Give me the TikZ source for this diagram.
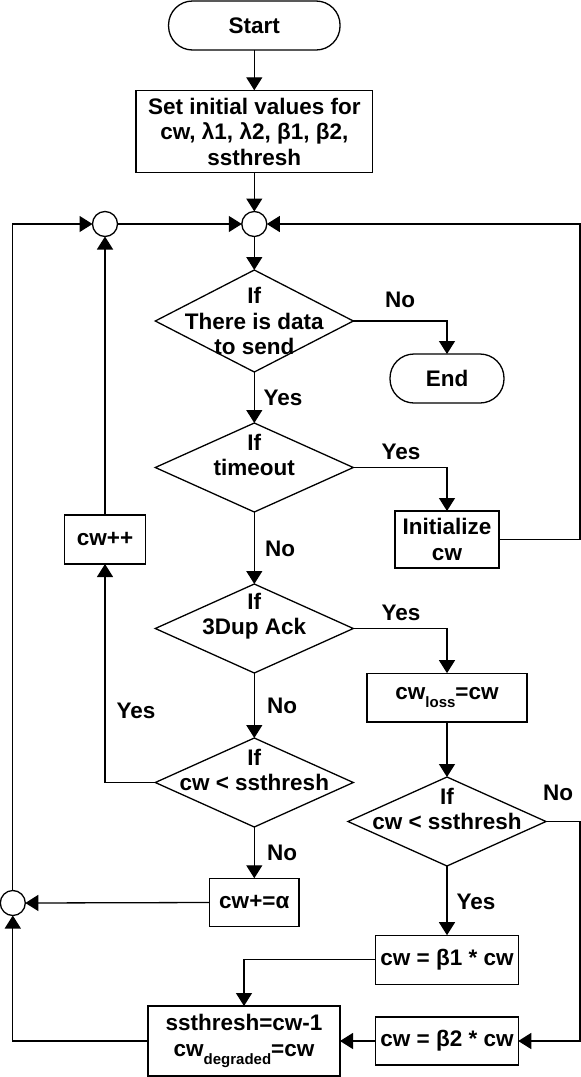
\documentclass[tikz,border=0pt]{standalone}
\usepackage{fontspec}
\setmainfont{Liberation Sans}
\usetikzlibrary{shapes.geometric,arrows.meta}
\newcommand{\mysub}[1]{\raisebox{-8.5pt}{\fontsize{15}{15}\selectfont #1}}
\begin{document}
\begin{tikzpicture}[x=1pt,y=-1pt,line width=1.3pt,
  every node/.style={font=\fontsize{22.5}{25.5}\selectfont\bfseries,align=center},
  box/.style={draw,rectangle,inner sep=0pt,outer sep=0pt},
  term/.style={draw,rectangle,rounded corners=24pt,inner sep=0pt,outer sep=0pt,minimum width=#1,minimum height=49pt},
  dia/.style={draw,diamond,inner sep=0pt,outer sep=0pt,minimum width=198pt,minimum height=#1},
  junc/.style={draw,circle,fill=white,inner sep=0pt,outer sep=0pt,minimum size=25pt},
  lbl/.style={inner sep=0pt},
  arr/.style={-{Triangle[length=13pt,width=16pt]}}]
\useasboundingbox (0,0) rectangle (581,1077);
% nodes
\node[term=171.5pt] (start) at (254.3,25.5) {Start};
\node[box,minimum width=236.6pt,minimum height=82.4pt] (init) at (254.3,131.5) {Set initial values for\\cw, λ1, λ2, β1, β2,\\ssthresh};
\node[junc] (cmain) at (254.3,224) {};
\node[junc] (cleft) at (105,224) {};
\node[junc] (cbot) at (12.8,903) {};
\node[dia=102pt] (d1) at (254.3,321) {};
\node[lbl] at (254.3,321) {If\\There is data\\to send};
\node[term=114pt] (endn) at (447,378.5) {End};
\node[dia=89pt] (d2) at (254.3,467.5) {};
\node[lbl] at (254.3,455) {If\\timeout};
\node[box,minimum width=104pt,minimum height=57pt] (icw) at (447,539.5) {Initialize\\cw};
\node[box,minimum width=81.5pt,minimum height=49pt] (cwpp) at (105,539.5) {cw++};
\node[dia=89pt] (d3) at (254.3,628.5) {};
\node[lbl] at (254.3,616) {If\\3Dup Ack};
\node[box,minimum width=160pt,minimum height=48.7pt] (loss) at (447,697.5) {cw\mysub{loss}=cw};
\node[dia=89pt] (d4) at (254.3,782.5) {};
\node[lbl] at (254.3,770) {If\\cw < ssthresh};
\node[dia=89pt] (d5) at (447,821.5) {};
\node[lbl] at (447,809) {If\\cw < ssthresh};
\node[box,minimum width=89.6pt,minimum height=48.5pt] (alpha) at (254.3,902.5) {cw+=α};
\node[box,minimum width=142.5pt,minimum height=49pt] (b1) at (447,959.7) {cw = β1 * cw};
\node[box,minimum width=142.5pt,minimum height=48pt] (b2) at (447,1041) {cw = β2 * cw};
\node[box,minimum width=192pt,minimum height=70pt] (sst) at (244,1041) {ssthresh=cw-1\\cw\mysub{degraded}=cw};
\coordinate (rt) at (580,224);
\coordinate (rb) at (580,1041);
% connectors
\draw[arr] (start) -- (init);
\draw[arr] (init) -- (cmain);
\draw[arr] (cleft) -- (cmain);
\draw[arr] (cbot.north) |- (cleft.west);
\draw[arr] (cmain) -- (d1);
\draw[arr] (d1.east) -| (endn.north);
\draw[arr] (d1.south) -- (d2.north);
\draw[arr] (d2.east) -| (icw.north);
\draw[arr] (icw.east) -| (rt) -- (cmain.east);
\draw[arr] (d2.south) -- (d3.north);
\draw[arr] (d3.east) -| (loss.north);
\draw[arr] (d3.south) -- (d4.north);
\draw[arr] (d4.west) -| (cwpp.south);
\draw[arr] (cwpp.north) -- (cleft.south);
\draw[arr] (d4.south) -- (alpha.north);
\draw[arr] (alpha.west) -- (cbot.east);
\draw[arr] (loss.south) -- (d5.north);
\draw[arr] (d5.south) -- (b1.north);
\draw[arr] (d5.east) -| (rb) -- (b2.east);
\draw[arr] (b1.west) -| (sst.north);
\draw[arr] (b2.west) -- (sst.east);
\draw[arr] (sst.west) -| (cbot.south);
% labels
\node[lbl] at (400,300) {No};
\node[lbl] at (283,398) {Yes};
\node[lbl] at (401,452) {Yes};
\node[lbl] at (280,549) {No};
\node[lbl] at (401,613) {Yes};
\node[lbl] at (282,706) {No};
\node[lbl] at (136,711) {Yes};
\node[lbl] at (282,853) {No};
\node[lbl] at (558,793) {No};
\node[lbl] at (476,902) {Yes};
\end{tikzpicture}
\end{document}
